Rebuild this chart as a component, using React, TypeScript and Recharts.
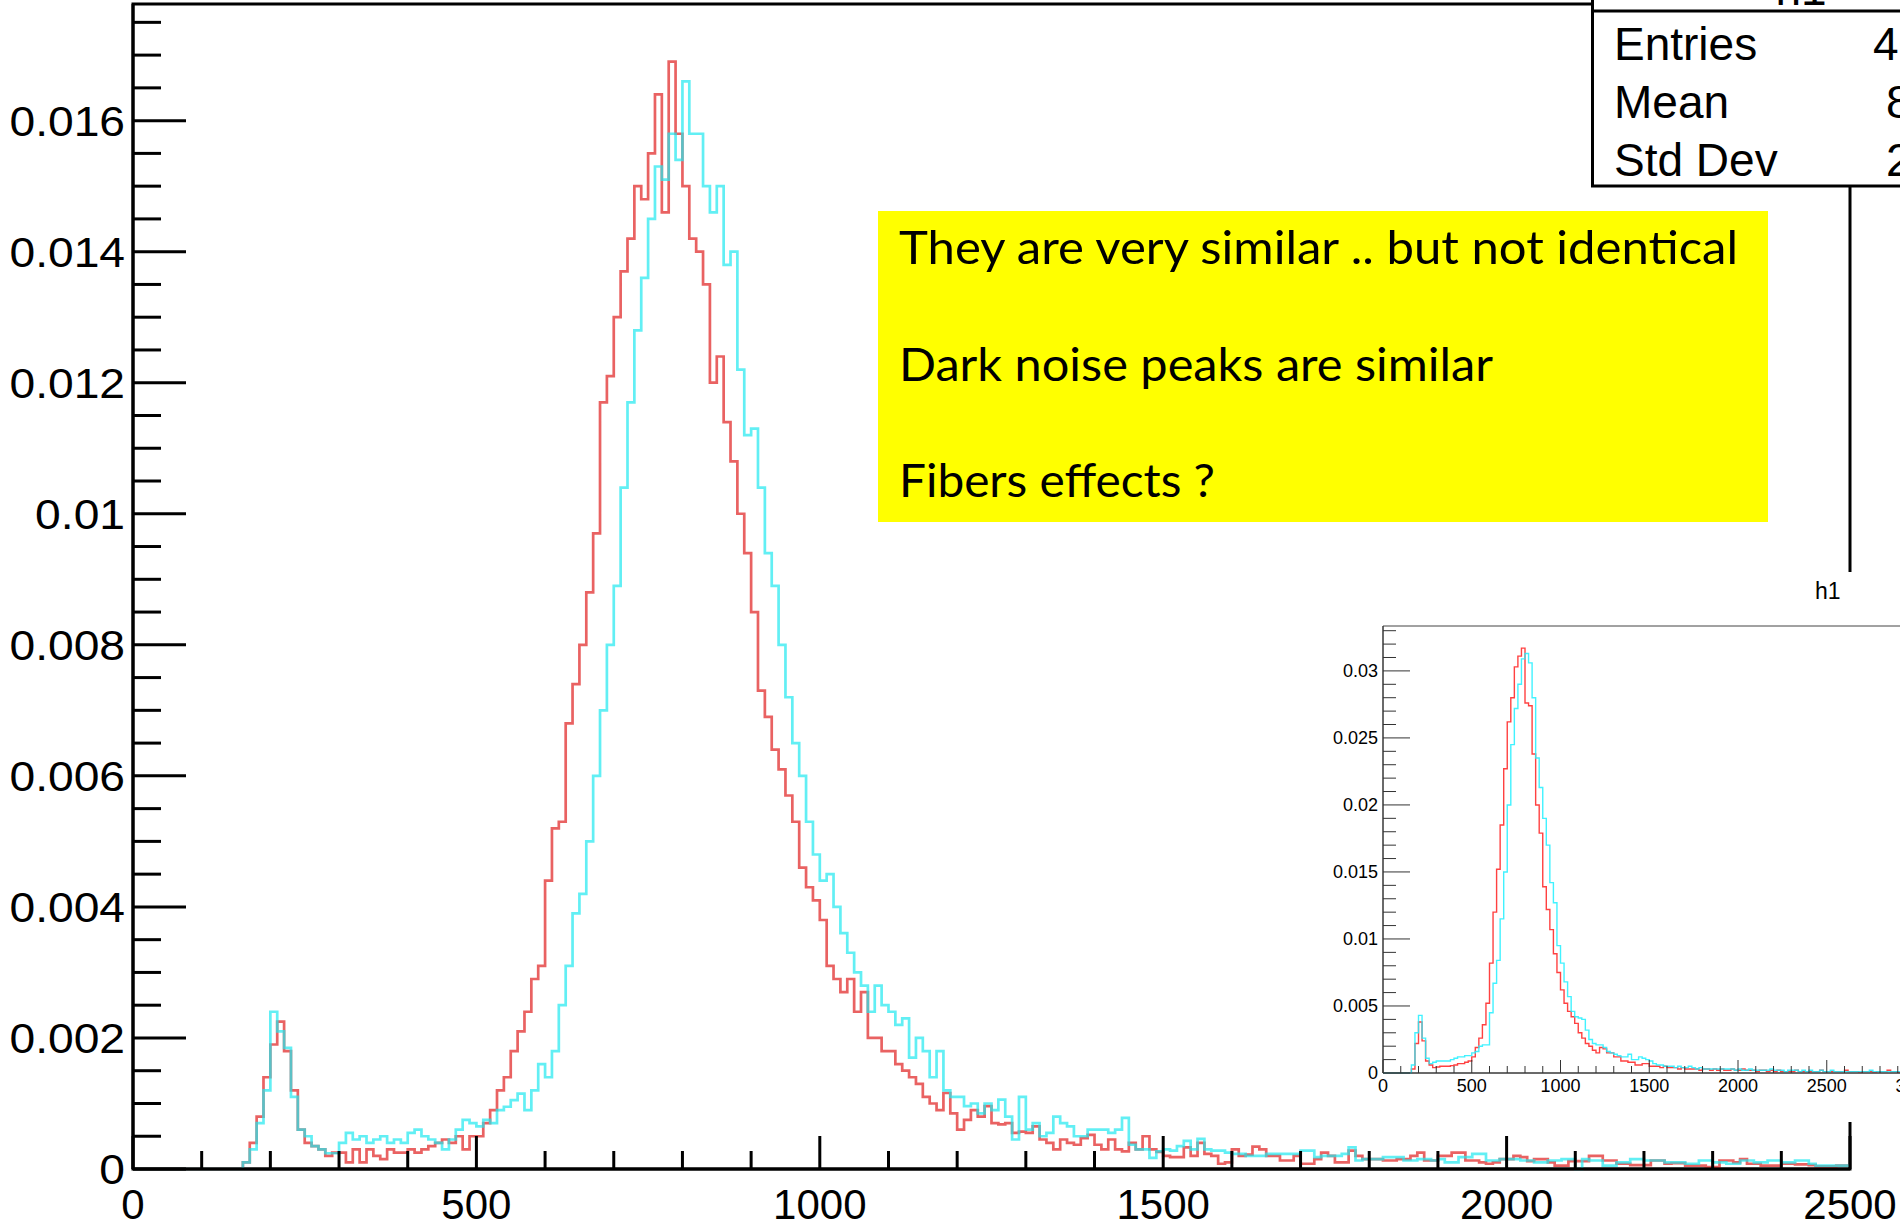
import React from "react";
import { LineChart, Line, XAxis, YAxis, ReferenceArea } from "recharts";

// main histogram: 10-wide bins starting at 150 (everything below is empty)
const mainBinStart = 150;
const mainBinWidth = 10;

const mainRed = [
  0, 0.0001, 0.0004, 0.0008, 0.0014, 0.0019, 0.00225, 0.0018, 0.0012, 0.0006,
  0.0004, 0.00035, 0.0003, 0.0002, 0.00025, 0.00025, 0.0001, 0.0003, 0.0001, 0.0003,
  0.0002, 0.00015, 0.0003, 0.00025, 0.00025, 0.0003, 0.00025, 0.0003, 0.00035, 0.0004,
  0.00045, 0.0004, 0.0005, 0.0003, 0.0005, 0.0005, 0.0007, 0.0009, 0.0012, 0.0014,
  0.0018, 0.0021, 0.0024, 0.0029, 0.0031, 0.0044, 0.0052, 0.0053, 0.0068, 0.0074,
  0.008, 0.0088, 0.0097, 0.0117, 0.0121, 0.013, 0.0137, 0.0142, 0.015, 0.0148,
  0.0155, 0.0164, 0.0146, 0.0169, 0.0158, 0.015, 0.0142, 0.014, 0.0135, 0.012,
  0.0124, 0.0114, 0.0108, 0.01, 0.0094, 0.0085, 0.0073, 0.0069, 0.0064, 0.0061,
  0.0057, 0.0053, 0.0046, 0.0043, 0.0041, 0.0038, 0.0031, 0.0029, 0.0027, 0.0029,
  0.0024, 0.0027, 0.002, 0.002, 0.0018, 0.0018, 0.0016, 0.0015, 0.0014, 0.0013,
  0.0011, 0.001, 0.0009, 0.00116, 0.00085, 0.0006, 0.00075, 0.0009, 0.0008, 0.00096,
  0.0007, 0.00068, 0.0007, 0.00055, 0.00057, 0.00055, 0.00065, 0.00045, 0.0004, 0.0003,
  0.00045, 0.0004, 0.00037, 0.00047, 0.00052, 0.00037, 0.0003, 0.00045, 0.0003, 0.00027,
  0.0004, 0.0003, 0.0005, 0.0003, 0.00026, 0.0002, 0.00018, 0.00018, 0.00033, 0.0002,
  0.0004, 0.00023, 0.0002, 0.00008, 0.0001, 0.0003, 0.0002, 0.00022, 0.00034, 0.0003,
  0.0002, 0.0002, 0.00013, 0.00013, 0.0002, 0.00008, 0.00008, 0.00015, 0.00025, 0.0002,
  0.0001, 0.0001, 0.00028, 0.0002, 0.00015, 0.00015, 0.00015, 0.00013, 0.00013, 0.00015,
  0.00015, 0.0002, 0.00025, 0.00013, 0.00013, 0.0002, 0.0002, 0.00025, 0.00025, 0.00013,
  0.00013, 0.0001, 0.00008, 0.0001, 0.00015, 0.00015, 0.0002, 0.00018, 0.00012, 0.00015,
  0.00015, 0.0001, 0.00005, 0.00005, 0.00012, 0.00012, 0.00012, 0.0002, 0.0002, 0.00013,
  0.00013, 0.00008, 0.00008, 0.00006, 0.00006, 0.00006, 0.00013, 0.00013, 0.00008, 0.00009,
  0.00009, 0.00005, 0.00005, 0.00005, 0.00003, 0.00003, 0.00013, 0.00013, 0.0001, 0.00015,
  0.00008, 0.00008, 0.00005, 0.00005, 0.00005, 0.00008, 0.00008, 0.00007, 0.00007, 0.00006,
  0.00004, 0.00004, 0.00004, 0.00005, 0.00005,
];

const mainCyan = [
  0, 0.0001, 0.0003, 0.0007, 0.0012, 0.0024, 0.0021, 0.00185, 0.0011, 0.0006,
  0.0005, 0.00035, 0.0003, 0.00024, 0.00024, 0.0004, 0.00055, 0.00045, 0.0005, 0.0004,
  0.00045, 0.0005, 0.0004, 0.00045, 0.0004, 0.00055, 0.0006, 0.0005, 0.00045, 0.0004,
  0.0003, 0.00045, 0.0006, 0.00075, 0.0007, 0.00065, 0.00075, 0.0007, 0.0009, 0.00095,
  0.00105, 0.00115, 0.0009, 0.0012, 0.0016, 0.0014, 0.0018, 0.0025, 0.0031, 0.0039,
  0.0042, 0.005, 0.006, 0.007, 0.008, 0.0089, 0.0104, 0.0117, 0.0128, 0.0136,
  0.0145, 0.0153, 0.0151, 0.0158, 0.0154, 0.0166, 0.0158, 0.0158, 0.015, 0.0146,
  0.015, 0.0138, 0.014, 0.0122, 0.0112, 0.0113, 0.0104, 0.0094, 0.0089, 0.008,
  0.0072, 0.0065, 0.006, 0.0053, 0.0048, 0.0044, 0.0045, 0.004, 0.0036, 0.0033,
  0.003, 0.0028, 0.0024, 0.0028, 0.0025, 0.0024, 0.0022, 0.0023, 0.0017, 0.002,
  0.0018, 0.0014, 0.0018, 0.0012, 0.0011, 0.0011, 0.00096, 0.001, 0.00085, 0.001,
  0.0009, 0.00106, 0.0008, 0.00045, 0.0011, 0.0006, 0.0007, 0.0005, 0.00055, 0.0008,
  0.0007, 0.00065, 0.0005, 0.0005, 0.0006, 0.0006, 0.0006, 0.00055, 0.0006, 0.00078,
  0.00037, 0.0003, 0.0003, 0.00017, 0.00027, 0.0003, 0.00028, 0.00035, 0.00043, 0.0003,
  0.00046, 0.0003, 0.00028, 0.00028, 0.00025, 0.00023, 0.00023, 0.0002, 0.0002, 0.0002,
  0.00023, 0.00023, 0.00023, 0.00023, 0.00023, 0.00028, 0.00028, 0.00018, 0.0002, 0.0002,
  0.0002, 0.00023, 0.00033, 0.00013, 0.00015, 0.00015, 0.00015, 0.00018, 0.00018, 0.00018,
  0.00013, 0.00013, 0.00015, 0.00015, 0.00013, 0.00015, 0.0001, 0.0001, 0.00018, 0.00018,
  0.00023, 0.00023, 0.00013, 0.00013, 0.00015, 0.00015, 0.00015, 0.00013, 0.00013, 0.0001,
  0.0001, 0.00013, 0.00013, 0.00015, 0.00015, 0, 0.00015, 0.00013, 0.00013, 0.00005,
  0.00005, 0.0001, 0.0001, 0.00015, 0.00015, 0.00013, 0.00013, 0.00013, 0.0001, 0.0001,
  0.0001, 0.00008, 0.00008, 0.00013, 0.00013, 0.0001, 0.0001, 0.00008, 0.00008, 0.00013,
  0.00013, 0.0001, 0.0001, 0.00013, 0.00013, 0.0001, 0.0001, 0.00013, 0.00013, 0.00008,
  0.00005, 0.00005, 0.00005, 0.00005, 0.00005,
];

// inset histogram: 20-wide bins starting at 160
const insetBinStart = 160;
const insetBinWidth = 20;

const insetRed = [
  0.0003, 0.0022, 0.0038, 0.0024, 0.0009, 0.0006, 0.0004, 0.00045, 0.0005, 0.0005,
  0.0005, 0.00055, 0.0006, 0.0007, 0.0007, 0.0008, 0.0009, 0.0012, 0.0019, 0.0026,
  0.0036, 0.0052, 0.0082, 0.012, 0.0152, 0.0185, 0.0227, 0.0262, 0.028, 0.0303,
  0.0311, 0.0317, 0.0276, 0.0274, 0.0238, 0.02, 0.0179, 0.0139, 0.0122, 0.0107,
  0.0089, 0.0075, 0.0062, 0.0052, 0.0046, 0.0042, 0.0037, 0.003, 0.0026, 0.0022,
  0.002, 0.0017, 0.0015, 0.0019, 0.0018, 0.0015, 0.0015, 0.0012, 0.0012, 0.0009,
  0.0009, 0.0008, 0.0008, 0.0006, 0.0006, 0.0007, 0.0007, 0.0005, 0.0005, 0.0005,
  0.0004, 0.0005, 0.0004, 0.0004, 0.0004, 0.0003, 0.0004, 0.0003, 0.0003, 0.0003,
  0.0003, 0.0002, 0.0003, 0.0003, 0.0002, 0.0003, 0.0002, 0.0003, 0.0002, 0.0002,
  0.0003, 0.0002, 0.0002, 0.0003, 0.0002, 0.0002, 0.0002, 0.0001, 0.0002, 0.0002,
  0.0001, 0.0002, 0.0001, 0.0002, 0.0001, 0.0001, 0.0001, 0.0001, 0.0002, 0.0001,
  0.0001, 0.0001, 0.0001, 0.0001, 0.0001, 0.0002, 0.0001, 0.0001, 0.0001, 0.0001,
  0.0001, 0.0001, 0.0002, 0.0001, 0.0001, 0.0001, 0.00005, 0.0001, 0.0001, 0.0001,
  0.00005, 0.0001, 0.0001, 0.0001, 0.0002, 0.0001, 0.0001, 0.00005, 0.0001, 0.0001,
  0.0001, 0.0001,
];

const insetCyan = [
  0.0006, 0.003, 0.0043, 0.0026, 0.0011, 0.0007, 0.0008, 0.0009, 0.0009, 0.0009,
  0.0009, 0.001, 0.0011, 0.0012, 0.0012, 0.0013, 0.0013, 0.0015, 0.0016, 0.002,
  0.0021, 0.0021, 0.0045, 0.0067, 0.0084, 0.0115, 0.015, 0.02, 0.0245, 0.0272,
  0.029, 0.0309, 0.0313, 0.0306, 0.028, 0.0235, 0.0213, 0.019, 0.017, 0.0142,
  0.0127, 0.0095, 0.0082, 0.0068, 0.0057, 0.0046, 0.0042, 0.0041, 0.004, 0.0032,
  0.0025, 0.0022, 0.0021, 0.0021, 0.0019, 0.0016, 0.0015, 0.0014, 0.0013, 0.0012,
  0.0012, 0.0014, 0.001, 0.001, 0.0012, 0.0011, 0.001, 0.0009, 0.0007, 0.0006,
  0.0006, 0.0005, 0.0005, 0.0005, 0.0004, 0.0005, 0.0004, 0.0004, 0.0005, 0.0004,
  0.0003, 0.0004, 0.0003, 0.0003, 0.0003, 0.0003, 0.0003, 0.0003, 0.0003, 0.0003,
  0.0003, 0.0002, 0.0003, 0.0002, 0.0002, 0.0003, 0.0002, 0.0002, 0.0002, 0.0002,
  0.0002, 0.0003, 0.0002, 0.0002, 0.0002, 0.0001, 0.0002, 0.0002, 0.0002, 0.0001,
  0.0002, 0.0001, 0.0002, 0.0001, 0.0001, 0.0002, 0.0001, 0.0001, 0.0002, 0.0001,
  0.0001, 0.0001, 0.0001, 0.0001, 0.0001, 0.0001, 0.0001, 0.0001, 0.0001, 0.0002,
  0.0001, 0.0001, 0.0001, 0.0001, 0.0001, 0.0001, 0.0001, 0.0001, 0.0001, 0.00005,
  0.0001, 0.0001,
];

const mainXMax = 2500;
const mainYMax = 0.01778;
const insetXMax = 4000;
const insetYMax = 0.03335;

const statsLabels = ["Entries", "Mean", "Std Dev"];
const statsValues = ["40000", "851.1", "263.5"];
const noteLines = [
  "They are very similar .. but not identical",
  "Dark noise peaks are similar",
  "Fibers effects ?",
];
const noteWidths = [839, 594, 316];

const axisFont = "'Liberation Sans', Arial, Helvetica, sans-serif";
const RED = "#e02020";
const CYAN = "#20e8f0";

function histRows(start: number, width: number, red: number[], cyan: number[]) {
  const rows = [{ x: 0, red: 0, cyan: 0 }];
  red.forEach((v, i) => rows.push({ x: start + i * width, red: v, cyan: cyan[i] }));
  const n = red.length;
  rows.push({ x: start + n * width, red: red[n - 1], cyan: cyan[n - 1] });
  return rows;
}

const mainData = histRows(mainBinStart, mainBinWidth, mainRed, mainCyan);
const insetData = histRows(insetBinStart, insetBinWidth, insetRed, insetCyan);

const steps = (from: number, to: number, step: number) => {
  const out: number[] = [];
  for (let k = 0; from + k * step <= to + 1e-9; k++) out.push(+(from + k * step).toFixed(5));
  return out;
};

const mainXTicks = steps(0, 2500, 100);
const mainYTicks = steps(0, 0.0175, 0.0005);
const insetXTicks = steps(0, 4000, 100);
const insetYTicks = steps(0, 0.033, 0.001);

const fmt = (v: number) => String(parseFloat(v.toFixed(4)));

const MainXTick = (props: any) => {
  const { x, y, payload } = props;
  const v = payload.value;
  const major = Math.round(v) % 500 === 0;
  return (
    <g>
      <line x1={x} y1={y} x2={x} y2={y - (major ? 33 : 18)} stroke="#000" strokeWidth={3} />
      {major && (
        <text x={x} y={y + 50} textAnchor="middle" fontSize={42} fontFamily={axisFont} fill="#000">
          {v}
        </text>
      )}
    </g>
  );
};

const MainYTick = (props: any) => {
  const { x, y, payload } = props;
  const v = payload.value;
  const major = Math.round(v * 10000) % 20 === 0;
  return (
    <g>
      <line x1={x} y1={y} x2={x + (major ? 53 : 28)} y2={y} stroke="#000" strokeWidth={3} />
      {major && (
        <text
          transform={`translate(${x - 8},${y}) scale(1.1,1)`}
          dy="0.36em"
          textAnchor="end"
          fontSize={42}
          fontFamily={axisFont}
          fill="#000"
        >
          {fmt(v)}
        </text>
      )}
    </g>
  );
};

const InsetXTick = (props: any) => {
  const { x, y, payload } = props;
  const v = payload.value;
  const major = Math.round(v) % 500 === 0;
  return (
    <g>
      <line x1={x} y1={y} x2={x} y2={y - (major ? 13 : 7)} stroke="#333" strokeWidth={1} />
      {major && (
        <text x={x} y={y + 19} textAnchor="middle" fontSize={18} fontFamily={axisFont} fill="#000">
          {v}
        </text>
      )}
    </g>
  );
};

const InsetYTick = (props: any) => {
  const { x, y, payload } = props;
  const v = payload.value;
  const major = Math.round(v * 1000) % 5 === 0;
  return (
    <g>
      <line x1={x} y1={y} x2={x + (major ? 27 : 13)} y2={y} stroke="#333" strokeWidth={1} />
      {major && (
        <text x={x - 5} y={y} dy="0.36em" textAnchor="end" fontSize={18} fontFamily={axisFont} fill="#000">
          {fmt(v)}
        </text>
      )}
    </g>
  );
};

const MainHist = () => (
  <LineChart width={1900} height={1225} data={mainData} margin={{ top: 4, right: 50, bottom: 0, left: 0 }}>
    <XAxis
      type="number"
      dataKey="x"
      domain={[0, mainXMax]}
      ticks={mainXTicks}
      interval={0}
      height={56}
      tickSize={0}
      tickMargin={0}
      tickLine={false}
      tick={MainXTick}
      axisLine={{ stroke: "#000", strokeWidth: 3 }}
    />
    <YAxis
      type="number"
      domain={[0, mainYMax]}
      ticks={mainYTicks}
      interval={0}
      width={133}
      tickSize={0}
      tickMargin={0}
      tickLine={false}
      tick={MainYTick}
      axisLine={{ stroke: "#000", strokeWidth: 3 }}
    />
    <ReferenceArea x1={0} x2={mainXMax} y1={0} y2={mainYMax} fill="none" stroke="#000" strokeWidth={3} />
    <Line dataKey="red" type="stepAfter" stroke={RED} strokeOpacity={0.7} strokeWidth={2.7} dot={false} isAnimationActive={false} />
    <Line dataKey="cyan" type="stepAfter" stroke={CYAN} strokeOpacity={0.7} strokeWidth={2.7} dot={false} isAnimationActive={false} />
  </LineChart>
);

const InsetHist = () => (
  <LineChart width={800} height={547} data={insetData} margin={{ top: 51, right: 27, bottom: 0, left: 0 }}>
    <XAxis
      type="number"
      dataKey="x"
      domain={[0, insetXMax]}
      ticks={insetXTicks}
      interval={0}
      height={49}
      tickSize={0}
      tickMargin={0}
      tickLine={false}
      tick={InsetXTick}
      axisLine={{ stroke: "#333", strokeWidth: 1 }}
    />
    <YAxis
      type="number"
      domain={[0, insetYMax]}
      ticks={insetYTicks}
      interval={0}
      width={63}
      tickSize={0}
      tickMargin={0}
      tickLine={false}
      tick={InsetYTick}
      axisLine={{ stroke: "#333", strokeWidth: 1 }}
    />
    <ReferenceArea x1={0} x2={insetXMax} y1={0} y2={insetYMax} fill="none" stroke="#444" strokeWidth={1} />
    <Line dataKey="red" type="stepAfter" stroke="#ff2020" strokeOpacity={0.85} strokeWidth={1.4} dot={false} isAnimationActive={false} />
    <Line dataKey="cyan" type="stepAfter" stroke="#20f0ff" strokeOpacity={0.85} strokeWidth={1.4} dot={false} isAnimationActive={false} />
  </LineChart>
);

export default function App() {
  return (
    <div
      style={{
        position: "absolute",
        left: 0,
        top: 0,
        width: 1900,
        height: 1225,
        overflow: "hidden",
        background: "#fff",
      }}
    >
      <div style={{ position: "absolute", left: 0, top: 0 }}>
        <MainHist />
      </div>

      <svg width={1900} height={1225} style={{ position: "absolute", left: 0, top: 0 }}>
        {/* yellow note */}
        <rect x={878} y={211} width={890} height={311} fill="#ffff00" />
        {noteLines.map((t, i) => (
          <text
            key={t}
            x={899}
            y={264 + i * 116.5}
            fontSize={47}
            fontFamily="Lato, 'Noto Sans', sans-serif"
            textLength={noteWidths[i]}
            lengthAdjust="spacingAndGlyphs"
            fill="#000"
          >
            {t}
          </text>
        ))}

        {/* stats box, cut by the picture edges */}
        <rect x={1592.5} y={-60} width={420} height={246} fill="#fff" stroke="#000" strokeWidth={3} />
        <line x1={1592} y1={11} x2={2012} y2={11} stroke="#000" strokeWidth={3} />
        <text x={1801} y={5} textAnchor="middle" fontSize={46} fontFamily={axisFont} fill="#000">
          h1
        </text>
        {statsLabels.map((t, i) => (
          <g key={t}>
            <text x={1614} y={60 + i * 58} fontSize={46} fontFamily={axisFont} fill="#000">
              {t}
            </text>
            <text x={2001} y={60 + i * 58} textAnchor="end" fontSize={46} fontFamily={axisFont} fill="#000">
              {statsValues[i]}
            </text>
          </g>
        ))}
      </svg>

      {/* inset pad */}
      <div style={{ position: "absolute", left: 1320, top: 572, width: 800, height: 550, background: "#fff" }}>
        <svg width={800} height={60} style={{ position: "absolute", left: 0, top: 0 }}>
          <text x={495} y={27} fontSize={23} fontFamily={axisFont} fill="#000">
            h1
          </text>
        </svg>
        <div style={{ position: "absolute", left: 0, top: 3 }}>
          <InsetHist />
        </div>
      </div>
    </div>
  );
}
